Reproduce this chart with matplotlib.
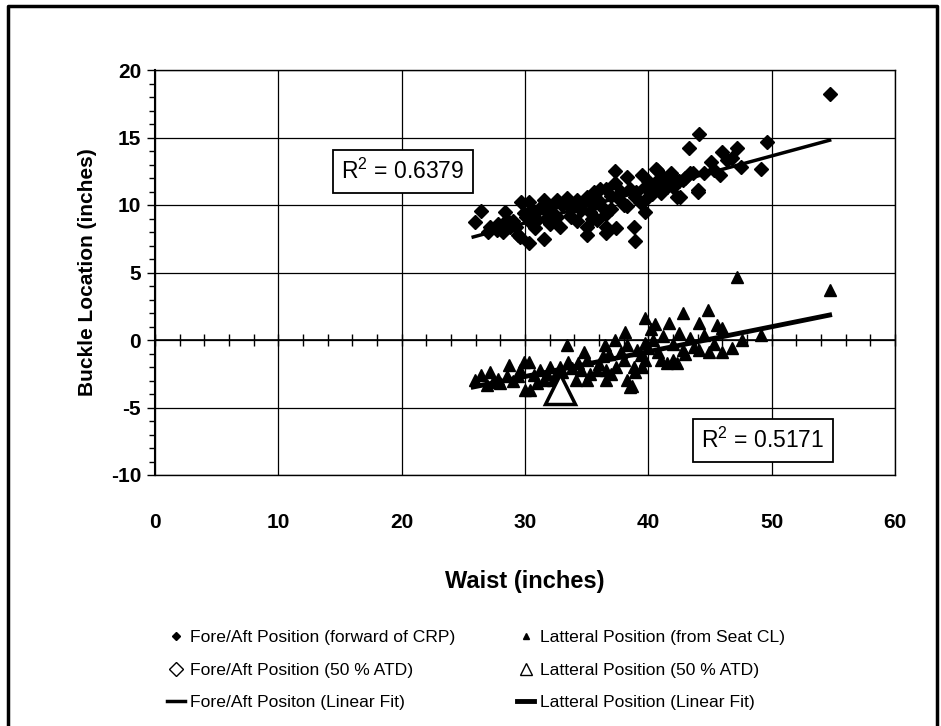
import matplotlib

matplotlib.use("Agg")
import matplotlib.pyplot as plt
from matplotlib.lines import Line2D
import numpy as np

# fore/aft buckle position vs waist (inches)
fore_x = [54.7, 44.1, 43.3, 46.0, 47.2, 49.6, 49.1, 44.0, 39.7, 45.1, 46.4, 45.8, 40.6, 41.2,
          42.6, 42.0, 43.4, 42.8, 40.1, 41.0, 26.4, 25.95, 27.2, 28.4, 28.5, 29.3, 29.7, 30.3,
          29.4, 30.3, 31.5, 31.5, 31.0, 31.9, 32.6, 33.4, 32.8, 34.2, 34.5, 35.0, 35.0, 35.0,
          35.8, 36.1, 36.6, 36.6, 36.6, 37.3, 37.3, 37.4, 37.7, 38.3, 38.3, 38.8, 38.9, 38.9,
          39.5, 39.7, 40.7, 41.2, 42.0, 42.3, 43.6, 44.0, 41.0, 39.9, 36.6, 35.6, 33.7, 32.0,
          30.1, 28.8, 27.7, 27.0, 27.8, 28.2, 29.0, 29.9, 30.6, 30.8, 31.2, 32.2, 32.5, 33.0,
          33.8, 34.0, 34.8, 35.3, 35.5, 36.0, 36.3, 37.0, 37.0, 37.8, 38.0, 38.5, 39.0, 39.3,
          40.0, 40.3, 40.5, 41.5, 41.8, 42.5, 43.0, 44.5, 45.3, 46.8, 47.5, 29.6, 30.5, 31.7,
          34.2, 35.4]
fore_y = [18.2, 15.26, 14.2, 13.95, 14.2, 14.7, 12.7, 11.0, 9.46, 13.2, 13.3, 12.2, 12.7, 12.1,
          10.6, 12.1, 12.4, 11.85, 11.35, 10.9, 9.58, 8.76, 8.4, 9.5, 8.9, 8.4, 10.2, 10.2,
          7.8, 7.2, 10.4, 7.5, 8.9, 9.4, 10.4, 10.5, 8.4, 10.4, 9.6, 10.6, 8.4, 7.8,
          8.9, 11.2, 9.3, 8.4, 7.9, 12.5, 11.6, 8.3, 10.4, 12.1, 9.9, 8.4, 7.3, 10.6,
          12.2, 11.35, 12.6, 11.85, 11.35, 10.6, 12.4, 11.1, 11.0, 10.5, 11.2, 11.0, 9.1, 8.6,
          9.1, 8.4, 8.15, 8.0, 8.6, 8.0, 8.8, 9.4, 9.6, 8.3, 9.8, 9.9, 9.2, 10.0,
          9.8, 10.1, 10.2, 9.5, 10.0, 10.3, 9.8, 10.7, 9.7, 11.0, 10.0, 11.2, 11.0, 10.2,
          11.8, 10.8, 11.6, 11.3, 12.4, 11.8, 12.0, 12.4, 12.6, 13.5, 12.8, 7.6, 8.7, 9.0,
          8.8, 9.0]

# lateral buckle position vs waist (inches)
lat_x = [47.2, 54.7, 42.8, 44.8, 39.7, 40.5, 41.7, 44.1, 45.6, 46.0, 47.6, 49.1, 46.8, 46.0,
         44.9, 44.1, 43.4, 42.8, 42.0, 40.4, 39.7, 38.1, 33.4, 37.3, 36.5, 34.8, 25.95, 26.4,
         27.2, 28.7, 28.5, 29.9, 30.3, 30.0, 29.4, 31.2, 31.5, 32.0, 32.8, 33.5, 34.1, 34.5,
         35.0, 35.8, 36.6, 36.6, 37.4, 38.0, 38.7, 38.8, 39.7, 39.1, 41.0, 41.5, 42.3, 43.7,
         30.4, 27.4, 28.0, 32.3, 30.95, 35.0, 38.3, 38.5, 26.9, 27.8, 29.0, 29.6, 30.7, 31.8,
         32.5, 33.0, 33.8, 34.3, 35.3, 36.0, 36.3, 37.0, 37.8, 38.3, 39.4, 40.0, 40.8, 41.2,
         42.0, 42.5, 43.0, 44.5, 45.3, 40.2, 38.9, 39.5, 36.8]
lat_y = [4.69, 3.7, 1.98, 2.2, 1.65, 1.2, 1.23, 1.23, 1.1, 0.86, 0.0, 0.37, -0.6, -0.87,
         -0.87, -0.74, 0.15, -0.74, -1.48, 0.0, -0.24, 0.62, -0.37, 0.0, -0.37, -0.86, -2.96, -2.6,
         -2.35, -1.85, -2.7, -1.6, -1.6, -3.7, -2.7, -2.2, -2.96, -1.98, -1.98, -1.6, -2.96, -2.2,
         -1.48, -2.2, -2.96, -2.2, -1.98, -1.48, -3.4, -1.98, -1.48, -0.74, -1.48, -1.73, -1.73, -0.49,
         -3.7, -3.1, -3.2, -2.96, -3.2, -2.96, -2.96, -3.46, -3.3, -2.9, -3.0, -2.2, -2.6, -2.5,
         -2.6, -2.4, -2.1, -1.7, -2.5, -1.8, -1.2, -2.5, -0.9, -0.4, -1.1, -0.6, -0.9, 0.3,
         -0.3, 0.5, -1.0, 0.4, -0.3, 0.8, -2.4, -2.0, -1.0]

# 50 % ATD dummy points
atd_fore = (32.5, 9.6)
atd_lat = (32.8, -3.6)

# linear fit end points
fit_x = [25.8, 54.7]
fore_fit_y = [7.63, 14.8]
lat_fit_y = [-3.48, 1.85]

r2_fore = "R$^2$ = 0.6379"
r2_lat = "R$^2$ = 0.5171"

plt.rcParams["font.family"] = ["Liberation Sans", "DejaVu Sans"]
plt.rcParams["axes.unicode_minus"] = False
plt.rcParams["mathtext.fontset"] = "custom"
plt.rcParams["mathtext.rm"] = "Liberation Sans"

W, H = 941, 726
fig = plt.figure(figsize=(W / 100, H / 100), dpi=100)
ax = fig.add_axes([155 / W, 1 - 475 / H, (895 - 155) / W, (475 - 70) / H])

ax.set_xlim(0, 60)
ax.set_ylim(-10, 20)
ax.set_xticks(np.arange(0, 61, 10))
ax.set_yticks(np.arange(-10, 21, 5))
ax.set_yticks(np.arange(-10, 21, 1), minor=True)
ax.grid(True, which="major", color="black", linewidth=0.9)
ax.set_axisbelow(True)
ax.tick_params(axis="x", length=0, pad=27, labelsize=15)
ax.tick_params(axis="y", which="major", direction="out", length=6, width=1, labelsize=15, pad=4)
ax.tick_params(axis="y", which="minor", direction="out", length=4, width=1)
for lab in ax.get_xticklabels() + ax.get_yticklabels():
    lab.set_fontweight("bold")
for sp in ax.spines.values():
    sp.set_color("black")
    sp.set_linewidth(1.0)
ax.spines["left"].set_linewidth(1.5)

# x axis crossing at y = 0 with its small ticks
zero = ax.secondary_xaxis(10 / 30)
zero.set_xticks(np.arange(0, 61, 2))
zero.tick_params(direction="inout", length=9, width=1, labelbottom=False, labeltop=False)
zero.spines["bottom"].set_linewidth(1.2)

ax.plot(*atd_fore, marker="D", ms=14, mfc="white", mec="black", mew=2, ls="none", zorder=2)
ax.plot(fore_x, fore_y, "D", color="black", ms=7.2, ls="none", zorder=3)
ax.plot(lat_x, lat_y, "^", color="black", ms=8, ls="none", zorder=3)
ax.plot(*atd_lat, marker="^", ms=22, mfc="white", mec="black", mew=2.5, ls="none", zorder=4)
ax.plot(fit_x, fore_fit_y, color="black", lw=2.5, zorder=5)
ax.plot(fit_x, lat_fit_y, color="black", lw=3.5, zorder=5)

box = dict(boxstyle="square,pad=0.38", fc="white", ec="black", lw=1.3)
ax.text(20.1, 12.5, r2_fore, ha="center", va="center", fontsize=16.5, bbox=box, zorder=6)
ax.text(49.3, -7.45, r2_lat, ha="center", va="center", fontsize=16.5, bbox=box, zorder=6)

ax.set_xlabel("Waist (inches)", fontsize=17, fontweight="bold", labelpad=28)
ax.set_ylabel("Buckle Location (inches)", fontsize=15, fontweight="bold", labelpad=10)

handles = [
    Line2D([], [], marker="D", color="black", ms=4, ls="none"),
    Line2D([], [], marker="D", mfc="white", mec="black", ms=7, mew=1, ls="none"),
    Line2D([], [], color="black", lw=2.5),
    Line2D([], [], marker="^", color="black", ms=5, ls="none"),
    Line2D([], [], marker="^", mfc="white", mec="black", ms=9, mew=1, ls="none"),
    Line2D([], [], color="black", lw=3.5),
]
labels = [
    "Fore/Aft Position (forward of CRP)",
    "Fore/Aft Position (50 % ATD)",
    "Fore/Aft Positon (Linear Fit)",
    "Latteral Position (from Seat CL)",
    "Latteral Position (50 % ATD)",
    "Latteral Position (Linear Fit)",
]
fig.legend(handles, labels, ncol=2, loc="center", bbox_to_anchor=(476 / W, 1 - 670 / H),
           frameon=False, prop={"size": 12.6}, handlelength=1.0,
           handletextpad=0.3, columnspacing=3.5, labelspacing=1.0)

# outer chart border
fig.add_artist(Line2D([8 / W, 8 / W, 937 / W, 937 / W], [0, 1 - 6 / H, 1 - 6 / H, 0],
                      transform=fig.transFigure, color="black", lw=2.5))

fig.savefig("out.png", dpi=100)
